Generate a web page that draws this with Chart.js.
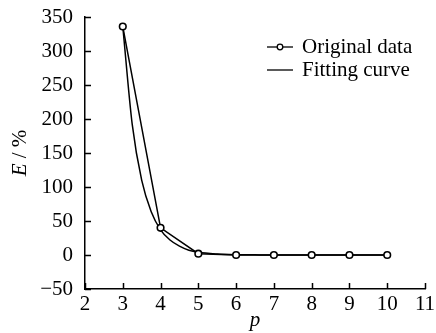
<!DOCTYPE html>
<html>
<head>
<meta charset="utf-8">
<script src="https://cdn.jsdelivr.net/npm/chart.js@4.4.1/dist/chart.umd.min.js"></script>
<style>
    body { margin: 0; background: #fff; }
    canvas { display: block; }
</style>
</head>
<body>
<canvas id="chart" width="436" height="333"></canvas>
<script>
// Original data (p vs E)
const origP = [3, 4, 5, 6, 7, 8, 9, 10];
const origE = [336, 40, 2, 0, 0, 0, 0, 0];

// Fitting curve
const fitP = [3, 3.25, 3.5, 3.75, 4, 4.25, 4.5, 4.75, 5, 5.5, 6, 6.5, 7, 8, 9, 10];
const fitE = [336, 192, 110, 64, 37, 22, 13, 7, 4, 1.5, 0.5, 0.2, 0, 0, 0, 0];

// Axis ticks
const xTicks = [2, 3, 4, 5, 6, 7, 8, 9, 10, 11];
const yTicks = [-50, 0, 50, 100, 150, 200, 250, 300, 350];

const legendLabels = ['Original data', 'Fitting curve'];

const serif = '"Liberation Serif", "Times New Roman", serif';
const fontSize = 21;

// inward tick marks, y title, legend
const decorPlugin = {
    id: 'decor',
    afterDraw(chart) {
        const ctx = chart.ctx;
        const xs = chart.scales.x;
        const ys = chart.scales.y;
        const area = chart.chartArea;
        ctx.save();
        ctx.strokeStyle = '#000';
        ctx.lineWidth = 1.5;
        ctx.beginPath();
        xTicks.forEach(v => {
            const px = Math.round(xs.getPixelForValue(v)) + 0.5;
            ctx.moveTo(px, area.bottom);
            ctx.lineTo(px, area.bottom - 6);
        });
        yTicks.forEach(v => {
            const py = Math.round(ys.getPixelForValue(v)) + 0.5;
            ctx.moveTo(area.left, py);
            ctx.lineTo(area.left + 6, py);
        });
        ctx.stroke();

        // y axis title: italic E, upright " / %"
        ctx.save();
        ctx.translate(20, (area.top + area.bottom) / 2);
        ctx.rotate(-Math.PI / 2);
        ctx.fillStyle = '#000';
        ctx.textBaseline = 'middle';
        ctx.font = 'italic ' + fontSize + 'px ' + serif;
        const wE = ctx.measureText('E').width;
        ctx.font = fontSize + 'px ' + serif;
        const wRest = ctx.measureText(' / %').width;
        const x0 = -(wE + wRest) / 2;
        ctx.font = 'italic ' + fontSize + 'px ' + serif;
        ctx.fillText('E', x0, 0);
        ctx.font = fontSize + 'px ' + serif;
        ctx.fillText(' / %', x0 + wE, 0);
        ctx.restore();

        // legend
        ctx.font = fontSize + 'px ' + serif;
        ctx.fillStyle = '#000';
        ctx.textBaseline = 'middle';
        legendLabels.forEach((label, i) => {
            const y = 47 + i * 23;
            ctx.beginPath();
            ctx.lineWidth = 1.3;
            ctx.moveTo(267, y);
            ctx.lineTo(293, y);
            ctx.stroke();
            if (i === 0) {
                ctx.beginPath();
                ctx.arc(280, y, 2.8, 0, Math.PI * 2);
                ctx.fillStyle = '#fff';
                ctx.fill();
                ctx.stroke();
                ctx.fillStyle = '#000';
            }
            ctx.fillText(label, 302, y);
        });
        ctx.restore();
    }
};

new Chart(document.getElementById('chart'), {
    type: 'line',
    data: {
        datasets: [
            {
                label: legendLabels[0],
                data: origP.map((p, i) => ({ x: p, y: origE[i] })),
                borderColor: '#000',
                borderWidth: 1.5,
                pointRadius: 3.3,
                pointBorderWidth: 1.6,
                pointBackgroundColor: '#fff',
                pointBorderColor: '#000',
                tension: 0
            },
            {
                label: legendLabels[1],
                data: fitP.map((p, i) => ({ x: p, y: fitE[i] })),
                borderColor: '#000',
                borderWidth: 1.5,
                pointRadius: 0,
                cubicInterpolationMode: 'monotone'
            }
        ]
    },
    options: {
        responsive: false,
        animation: false,
        layout: { padding: { top: 17, right: 11, left: 0, bottom: 0 } },
        plugins: {
            legend: { display: false },
            tooltip: { enabled: false }
        },
        scales: {
            x: {
                type: 'linear',
                min: 2,
                max: 11,
                afterBuildTicks: scale => { scale.ticks = xTicks.map(v => ({ value: v })); },
                afterFit: scale => {
                    scale.height = 44;
                    scale.paddingLeft = 0;
                    scale.paddingRight = 0;
                },
                grid: { display: false, drawTicks: false },
                border: { display: true, color: '#000', width: 1.5 },
                ticks: {
                    color: '#000',
                    padding: 3,
                    font: { family: serif, size: fontSize }
                },
                title: {
                    display: true,
                    text: 'p',
                    color: '#000',
                    padding: { top: 0, bottom: 0 },
                    font: { family: serif, size: fontSize, style: 'italic' }
                }
            },
            y: {
                min: -50,
                max: 350,
                afterBuildTicks: scale => { scale.ticks = yTicks.map(v => ({ value: v })); },
                afterFit: scale => {
                    scale.width = 85;
                    scale.paddingTop = 0;
                    scale.paddingBottom = 0;
                },
                grid: { display: false, drawTicks: false },
                border: { display: true, color: '#000', width: 1.5 },
                ticks: {
                    color: '#000',
                    padding: 12,
                    font: { family: serif, size: fontSize },
                    callback: v => String(v).replace('-', '\u2212')
                }
            }
        }
    },
    plugins: [decorPlugin]
});
</script>
</body>
</html>
